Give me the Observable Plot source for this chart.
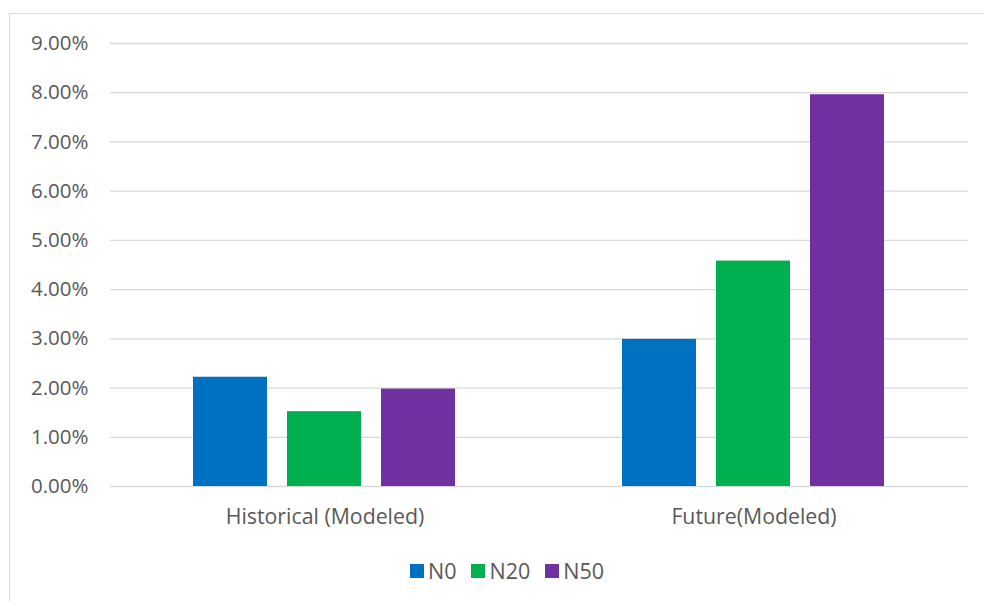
<!DOCTYPE html>
<html>
<head>
<meta charset="utf-8">
<script src="https://cdn.jsdelivr.net/npm/d3@7"></script>
<script src="https://cdn.jsdelivr.net/npm/@observablehq/plot@0.6"></script>
<style>
  html, body { margin: 0; padding: 0; background: #fff; overflow: hidden; }
  #frame { position: absolute; left: 9px; top: 13px; width: 1000px; height: 620px; border: 1px solid #d9d9d9; box-sizing: border-box; }
  #chart { position: absolute; left: 0; top: 0; }
  #legend { position: absolute; left: 410px; top: 556px; display: flex; align-items: center; font-family: "Open Sans", sans-serif; font-size: 21.5px; color: #595959; }
  .item { display: flex; align-items: center; margin-right: 15px; }
  .sw { width: 14px; height: 14px; margin-right: 4px; }
</style>
</head>
<body>
<div id="frame"></div>
<div id="chart"></div>
<div id="legend"></div>
<script>
const categories = ["Historical (Modeled)", "Future(Modeled)"];
const series = ["N0", "N20", "N50"];
const historicalValues = [0.0222, 0.0152, 0.0198];
const futureValues = [0.0299, 0.0458, 0.0796];
const colors = ["#0070C0", "#00B050", "#7030A0"];
const yTicks = [0, 0.01, 0.02, 0.03, 0.04, 0.05, 0.06, 0.07, 0.08, 0.09];

const valuesByCategory = [historicalValues, futureValues];
const data = categories.flatMap((c, i) => series.map((s, j) => ({category: c, series: s, value: valuesByCategory[i][j]})));

const chart = Plot.plot({
  width: 984,
  height: 545,
  marginLeft: 109,
  marginRight: 16,
  marginTop: 43,
  marginBottom: 59,
  style: {fontFamily: "'Open Sans', sans-serif", fontSize: "20.5px", color: "#595959", background: "transparent", overflow: "visible"},
  fx: {domain: categories, padding: 0, label: null, axis: null},
  x: {domain: series, paddingInner: 0.2105, paddingOuter: 0.866, axis: null},
  y: {domain: [0, 0.09], ticks: yTicks, tickFormat: d3.format(".2%"), tickSize: 0, tickPadding: 22, label: null},
  color: {domain: series, range: colors},
  marks: [
    Plot.ruleY(yTicks, {stroke: "#d9d9d9", strokeWidth: 1.3}),
    Plot.barY(data, {fx: "category", x: "series", y: "value", fill: "series"}),
    Plot.axisFx({anchor: "bottom", tickSize: 0, tickPadding: 22, label: null, fontSize: 21.3})
  ]
});
document.getElementById("chart").appendChild(chart);

const legend = document.getElementById("legend");
series.forEach((s, i) => {
  const item = document.createElement("div");
  item.className = "item";
  const sw = document.createElement("div");
  sw.className = "sw";
  sw.style.background = colors[i];
  const t = document.createElement("span");
  t.textContent = s;
  item.appendChild(sw);
  item.appendChild(t);
  legend.appendChild(item);
});
</script>
</body>
</html>
